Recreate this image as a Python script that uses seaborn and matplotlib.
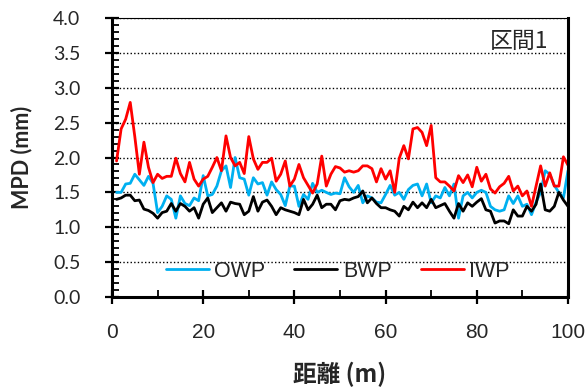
import matplotlib
matplotlib.use("Agg")
import matplotlib.pyplot as plt
import numpy as np
import pandas as pd
import seaborn as sns
from matplotlib.lines import Line2D
from matplotlib.ticker import MultipleLocator, FormatStrFormatter

# ---------------- data ----------------
distance = list(range(1, 101))

owp = [1.50, 1.50, 1.62, 1.63, 1.76, 1.68, 1.60, 1.73, 1.63, 1.21,
       1.30, 1.45, 1.40, 1.13, 1.45, 1.34, 1.31, 1.42, 1.38, 1.74,
       1.45, 1.47, 1.59, 1.81, 1.88, 1.57, 2.00, 1.71, 1.69, 1.46,
       1.71, 1.62, 1.64, 1.46, 1.65, 1.54, 1.47, 1.31, 1.59, 1.59,
       1.30, 1.47, 1.40, 1.63, 1.50, 1.53, 1.50, 1.47, 1.49, 1.48,
       1.71, 1.58, 1.50, 1.60, 1.35, 1.45, 1.42, 1.36, 1.35, 1.47,
       1.60, 1.46, 1.50, 1.40, 1.54, 1.60, 1.62, 1.45, 1.62, 1.35,
       1.45, 1.42, 1.57, 1.45, 1.62, 1.13, 1.45, 1.50, 1.42, 1.50,
       1.53, 1.50, 1.30, 1.25, 1.23, 1.25, 1.45, 1.34, 1.45, 1.30,
       1.33, 1.18, 1.36, 1.50, 1.81, 1.76, 1.60, 1.50, 1.42, 1.81]

bwp = [1.40, 1.42, 1.46, 1.46, 1.38, 1.39, 1.26, 1.24, 1.20, 1.13,
       1.21, 1.23, 1.34, 1.23, 1.34, 1.30, 1.23, 1.28, 1.13, 1.33,
       1.42, 1.21, 1.28, 1.35, 1.23, 1.36, 1.34, 1.33, 1.18, 1.23,
       1.44, 1.23, 1.36, 1.39, 1.30, 1.18, 1.28, 1.25, 1.23, 1.21,
       1.18, 1.40, 1.25, 1.33, 1.46, 1.28, 1.33, 1.33, 1.25, 1.38,
       1.40, 1.39, 1.42, 1.44, 1.52, 1.35, 1.42, 1.34, 1.28, 1.28,
       1.25, 1.23, 1.16, 1.30, 1.25, 1.36, 1.28, 1.35, 1.28, 1.40,
       1.28, 1.31, 1.34, 1.23, 1.13, 1.34, 1.23, 1.35, 1.30, 1.36,
       1.41, 1.25, 1.23, 1.06, 1.09, 1.09, 1.05, 1.25, 1.16, 1.16,
       1.30, 1.23, 1.33, 1.62, 1.25, 1.23, 1.30, 1.50, 1.39, 1.30]

iwp = [1.95, 2.41, 2.55, 2.79, 2.30, 1.76, 2.22, 1.86, 1.64, 1.76,
       1.70, 1.73, 1.73, 1.99, 1.77, 1.65, 1.93, 1.69, 1.59, 1.69,
       1.73, 1.86, 2.00, 1.81, 2.31, 2.00, 1.88, 1.93, 1.77, 2.30,
       1.98, 1.83, 1.93, 1.93, 1.99, 1.66, 1.76, 1.95, 1.59, 1.69,
       1.90, 1.71, 1.60, 1.49, 1.62, 2.02, 1.59, 1.76, 1.87, 1.85,
       1.79, 1.81, 1.79, 1.81, 1.88, 1.88, 1.84, 1.65, 1.84, 1.69,
       1.81, 1.50, 1.99, 2.17, 1.98, 2.41, 2.43, 2.36, 2.17, 2.46,
       1.71, 1.65, 1.65, 1.59, 1.52, 1.74, 1.64, 1.75, 1.58, 1.86,
       1.66, 1.76, 1.55, 1.49, 1.58, 1.63, 1.73, 1.52, 1.59, 1.45,
       1.52, 1.30, 1.59, 1.88, 1.59, 1.78, 1.59, 1.59, 2.01, 1.89]

series_names = ["OWP", "BWP", "IWP"]
series_colors = ["#00B0F0", "#000000", "#FF0000"]
x_tick_values = [0, 20, 40, 60, 80, 100]
y_tick_values = [0.0, 0.5, 1.0, 1.5, 2.0, 2.5, 3.0, 3.5, 4.0]
section_label = "区間1"
x_label = "距離 (m)"
y_label = "MPD (mm)"

# ---------------- plot ----------------
sns.set_theme(style="white")
plt.rcParams["font.family"] = ["Liberation Sans", "Noto Sans CJK JP", "DejaVu Sans"]

df = pd.DataFrame({
    "distance": distance * 3,
    "mpd": owp + bwp + iwp,
    "series": [n for n in series_names for _ in distance],
})

fig = plt.figure(figsize=(5.87, 3.90), dpi=100)
ax = fig.add_axes([0.1908, 0.2385, 0.7768, 0.7153])

palette = dict(zip(series_names, series_colors))
sns.lineplot(data=df, x="distance", y="mpd", hue="series", hue_order=series_names,
             palette=palette, linewidth=2.0, estimator=None, sort=False,
             legend=False, ax=ax)

ax.set_xlim(0, 100)
ax.set_ylim(0, 4.0)
ax.set_xticks(x_tick_values)
ax.set_yticks(y_tick_values)
ax.xaxis.set_minor_locator(MultipleLocator(10))
ax.yaxis.set_minor_locator(MultipleLocator(0.1))
ax.yaxis.set_major_formatter(FormatStrFormatter("%.1f"))

ax.yaxis.grid(True, which="major", linestyle=(0, (1, 1.6)), color="black", linewidth=1.0)
ax.xaxis.grid(False)
ax.set_axisbelow(True)

for side in ["left", "bottom", "right"]:
    ax.spines[side].set_linewidth(2.2)
    ax.spines[side].set_color("black")
ax.spines["top"].set_linewidth(0.8)
ax.spines["top"].set_color("black")

ax.tick_params(axis="both", which="major", direction="inout", length=9.5, width=1.6,
               color="black", left=True, bottom=True)
ax.tick_params(axis="both", which="minor", direction="in", length=5, width=1.3,
               color="black", left=True, bottom=True)
ax.tick_params(axis="x", which="major", pad=14, labelsize=15)
ax.tick_params(axis="y", which="major", pad=18, labelsize=14)
for lab in ax.get_yticklabels():
    lab.set_family(["Lato", "DejaVu Sans"])

ax.set_xlabel(x_label, fontsize=17, fontweight="bold",
              family=["Noto Sans CJK JP", "DejaVu Sans"], labelpad=14)
ax.set_ylabel(y_label, fontsize=15.5, fontweight="bold",
              family=["Lato", "DejaVu Sans"], labelpad=15)

ax.text(95.6, 3.66, section_label, ha="right", va="center", fontsize=16.5,
        family=["Noto Sans CJK JP", "DejaVu Sans"])

handles = [Line2D([], [], color=c, linewidth=2.0) for c in series_colors]
ax.legend(handles, series_names, loc="center", bbox_to_anchor=(0.495, 0.093),
          ncol=3, frameon=False, fontsize=15.5, handlelength=2.0,
          handletextpad=0.25, columnspacing=1.35, borderaxespad=0)

fig.savefig("out.png", dpi=100)
